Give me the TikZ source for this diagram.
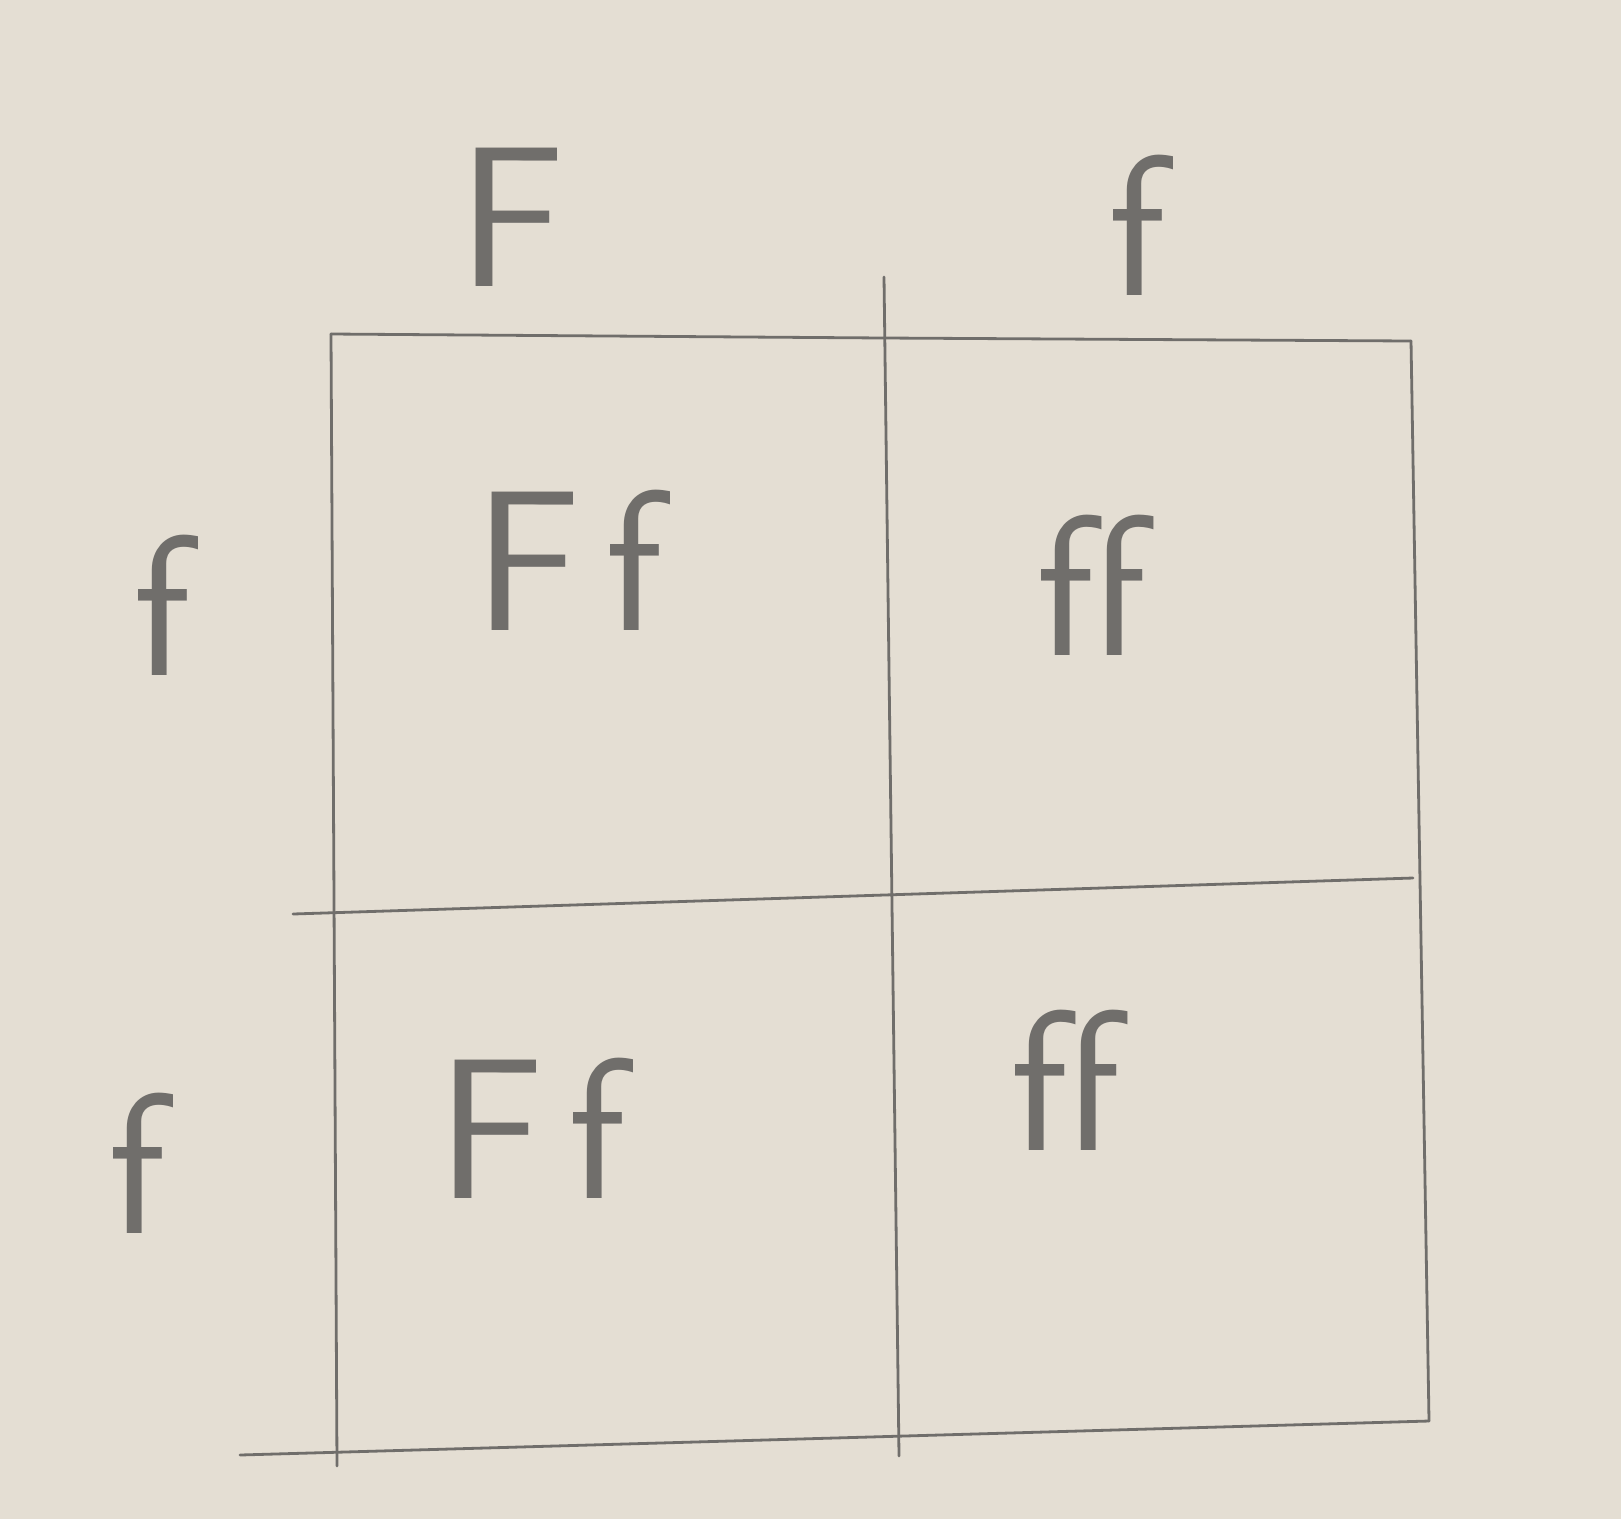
\documentclass[tikz,border=0pt]{standalone}
\usepackage{fontspec}
\definecolor{paper}{RGB}{228,222,211}
\definecolor{pencil}{RGB}{112,110,107}
\begin{document}
\begin{tikzpicture}[x=1pt,y=-1pt,
  gridline/.style={draw=pencil,line width=2.8pt,line cap=round},
  lbl/.style={text=pencil,font=\sffamily\fontsize{200}{200}\selectfont,inner sep=0pt,anchor=center}]
\fill[paper] (0,0) rectangle (1621,1519);
\useasboundingbox (0,0) rectangle (1621,1519);
% grid corners
\coordinate (tl) at (331,334);
\coordinate (tm) at (884,277);
\coordinate (tmx) at (884,338);
\coordinate (tr) at (1411,341);
\coordinate (ml) at (293,914);
\coordinate (mr) at (1413,878);
\coordinate (bl) at (337,1466);
\coordinate (bll) at (240,1455);
\coordinate (bm) at (899,1456);
\coordinate (br) at (1429,1421);
\draw[gridline] (tl) -- (tmx) -- (tr);
\draw[gridline] (tm) -- (bm);
\draw[gridline] (tl) -- (bl);
\draw[gridline] (tr) -- (br);
\draw[gridline] (ml) -- (mr);
\draw[gridline] (bll) -- (br);
% labels
\node[lbl] (p1) at (512,217) {F};
\node[lbl] (p2) at (1137,225) {f};
\node[lbl] (q1) at (162,605) {f};
\node[lbl] (q2) at (137,1163) {f};
\node[lbl] (c11) at (569,560) {F\kern0.12em f};
\node[lbl] (c12) at (1091,585) {ff};
\node[lbl] (c21) at (532,1128) {F\kern0.12em f};
\node[lbl] (c22) at (1065,1080) {ff};
\end{tikzpicture}
\end{document}
